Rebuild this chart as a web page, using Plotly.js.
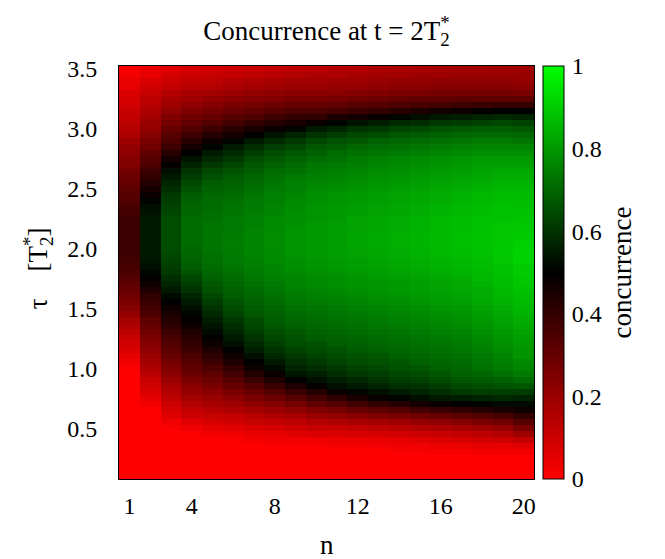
<!DOCTYPE html>
<html>
<head>
<meta charset="utf-8">
<script src="https://cdn.plot.ly/plotly-3.0.1.min.js"></script>
<style>
  html, body { margin: 0; padding: 0; background: #fff; }
  #chart { width: 665px; height: 559px; }
</style>
</head>
<body>
<div id="chart"></div>
<script>
// pulse count n (columns)
const nValues = [1,2,3,4,5,6,7,8,9,10,11,12,13,14,15,16,17,18,19,20];

// pulse spacing tau in units of T2* (rows)
const tauValues = [
  0.10,0.15,0.20,0.25,0.30,0.35,0.40,0.45,
  0.50,0.55,0.60,0.65,0.70,0.75,0.80,0.85,0.90,0.95,
  1.00,1.05,1.10,1.15,1.20,1.25,1.30,1.35,1.40,1.45,
  1.50,1.55,1.60,1.65,1.70,1.75,1.80,1.85,1.90,1.95,
  2.00,2.05,2.10,2.15,2.20,2.25,2.30,2.35,2.40,2.45,
  2.50,2.55,2.60,2.65,2.70,2.75,2.80,2.85,2.90,2.95,
  3.00,3.05,3.10,3.15,3.20,3.25,3.30,3.35,3.40,3.45,
  3.50
];

// concurrence for each n, ordered by tau (0.10 ... 3.50)
const cN01 = [0,0,0,0,0,0,0,0,
  0,0,0,0,0,0,0,0,0,0,
  0.01,0.03,0.05,0.07,0.09,0.11,0.13,0.16,0.18,0.21,
  0.24,0.26,0.28,0.30,0.32,0.34,0.35,0.36,0.37,0.38,
  0.38,0.38,0.38,0.38,0.38,0.38,0.37,0.36,0.34,0.33,
  0.32,0.30,0.29,0.27,0.25,0.24,0.22,0.21,0.19,0.16,
  0.15,0.13,0.12,0.11,0.09,0.08,0.07,0.05,0.04,0.02,
  0.01];
const cN02 = [0,0,0,0,0,0,0,0,
  0,0,0,0,0.02,0.05,0.07,0.09,0.11,0.14,
  0.16,0.18,0.20,0.22,0.24,0.26,0.28,0.30,0.32,0.35,
  0.37,0.39,0.41,0.44,0.47,0.49,0.51,0.53,0.54,0.55,
  0.55,0.55,0.55,0.55,0.55,0.55,0.54,0.53,0.51,0.48,
  0.45,0.43,0.40,0.38,0.35,0.33,0.31,0.28,0.26,0.24,
  0.21,0.20,0.18,0.16,0.14,0.13,0.11,0.09,0.07,0.05,
  0.04];
const cN03 = [0,0,0,0,0,0,0,0,
  0.01,0.03,0.06,0.08,0.10,0.13,0.15,0.17,0.20,0.23,
  0.25,0.27,0.30,0.32,0.34,0.36,0.38,0.41,0.43,0.45,
  0.47,0.50,0.52,0.55,0.57,0.59,0.61,0.62,0.63,0.64,
  0.65,0.65,0.65,0.65,0.65,0.65,0.64,0.63,0.62,0.61,
  0.59,0.57,0.55,0.53,0.49,0.46,0.42,0.38,0.35,0.33,
  0.30,0.27,0.25,0.22,0.19,0.17,0.15,0.12,0.10,0.08,
  0.06];
const cN04 = [0,0,0,0,0,0,0,0.01,
  0.03,0.06,0.10,0.12,0.15,0.18,0.21,0.23,0.26,0.29,
  0.31,0.33,0.35,0.38,0.40,0.42,0.44,0.47,0.49,0.51,
  0.53,0.55,0.57,0.60,0.62,0.64,0.66,0.68,0.69,0.70,
  0.70,0.71,0.71,0.71,0.71,0.71,0.70,0.70,0.69,0.68,
  0.66,0.64,0.62,0.60,0.57,0.54,0.50,0.46,0.42,0.38,
  0.34,0.31,0.28,0.25,0.22,0.19,0.17,0.14,0.12,0.10,
  0.08];
const cN05 = [0,0,0,0,0,0,0,0.02,
  0.05,0.08,0.11,0.14,0.17,0.20,0.23,0.26,0.29,0.32,
  0.35,0.38,0.41,0.44,0.47,0.49,0.52,0.54,0.56,0.58,
  0.60,0.62,0.64,0.66,0.67,0.69,0.70,0.71,0.72,0.72,
  0.73,0.73,0.73,0.73,0.73,0.72,0.72,0.71,0.71,0.70,
  0.69,0.68,0.66,0.64,0.61,0.58,0.55,0.51,0.47,0.43,
  0.38,0.34,0.30,0.27,0.24,0.21,0.18,0.15,0.13,0.11,
  0.09];
const cN06 = [0,0,0,0,0,0,0.01,0.03,
  0.06,0.09,0.12,0.16,0.19,0.23,0.26,0.30,0.33,0.37,
  0.40,0.44,0.47,0.50,0.53,0.55,0.57,0.59,0.61,0.63,
  0.65,0.66,0.68,0.69,0.70,0.71,0.72,0.73,0.74,0.74,
  0.745,0.745,0.745,0.74,0.74,0.74,0.73,0.73,0.72,0.71,
  0.70,0.69,0.68,0.66,0.64,0.61,0.58,0.55,0.51,0.46,
  0.42,0.37,0.33,0.29,0.26,0.23,0.20,0.17,0.15,0.12,
  0.10];
const cN07 = [0,0,0,0,0,0,0.02,0.04,
  0.07,0.11,0.14,0.18,0.22,0.26,0.30,0.34,0.39,0.43,
  0.47,0.50,0.53,0.56,0.58,0.60,0.62,0.64,0.65,0.67,
  0.68,0.69,0.70,0.71,0.72,0.73,0.74,0.75,0.75,0.76,
  0.76,0.76,0.76,0.76,0.75,0.75,0.75,0.74,0.74,0.73,
  0.72,0.71,0.70,0.68,0.67,0.65,0.62,0.59,0.55,0.50,
  0.45,0.40,0.35,0.31,0.27,0.24,0.21,0.18,0.16,0.13,
  0.11];
const cN08 = [0,0,0,0,0,0.01,0.03,0.05,
  0.08,0.12,0.16,0.20,0.24,0.29,0.34,0.39,0.44,0.48,
  0.52,0.55,0.58,0.60,0.62,0.64,0.65,0.67,0.68,0.69,
  0.70,0.71,0.72,0.73,0.74,0.75,0.76,0.76,0.77,0.77,
  0.775,0.775,0.775,0.77,0.77,0.77,0.76,0.76,0.75,0.75,
  0.74,0.73,0.72,0.71,0.69,0.67,0.65,0.62,0.58,0.54,
  0.48,0.43,0.38,0.33,0.29,0.25,0.22,0.19,0.17,0.14,
  0.12];
const cN09 = [0,0,0,0,0,0.01,0.03,0.06,
  0.09,0.13,0.17,0.22,0.27,0.33,0.39,0.44,0.50,0.54,
  0.57,0.59,0.61,0.63,0.65,0.66,0.67,0.69,0.70,0.71,
  0.72,0.73,0.74,0.75,0.76,0.76,0.77,0.78,0.78,0.79,
  0.79,0.79,0.79,0.79,0.78,0.78,0.78,0.77,0.77,0.76,
  0.75,0.75,0.74,0.72,0.71,0.69,0.67,0.64,0.61,0.57,
  0.51,0.45,0.40,0.35,0.30,0.26,0.23,0.20,0.18,0.15,
  0.13];
const cN10 = [0,0,0,0,0,0.01,0.03,0.07,
  0.11,0.15,0.20,0.25,0.31,0.37,0.43,0.49,0.53,0.56,
  0.59,0.61,0.63,0.65,0.66,0.68,0.69,0.70,0.71,0.72,
  0.73,0.74,0.75,0.76,0.77,0.77,0.78,0.79,0.79,0.80,
  0.80,0.80,0.80,0.80,0.80,0.79,0.79,0.79,0.78,0.78,
  0.77,0.76,0.75,0.74,0.73,0.71,0.69,0.67,0.64,0.60,
  0.55,0.48,0.41,0.35,0.30,0.26,0.23,0.20,0.18,0.16,
  0.14];
const cN11 = [0,0,0,0,0,0.02,0.04,0.07,
  0.11,0.16,0.21,0.27,0.34,0.41,0.48,0.53,0.56,0.59,
  0.61,0.63,0.65,0.66,0.68,0.69,0.70,0.71,0.72,0.73,
  0.74,0.75,0.76,0.77,0.78,0.78,0.79,0.80,0.80,0.81,
  0.81,0.81,0.81,0.81,0.81,0.80,0.80,0.80,0.79,0.79,
  0.78,0.77,0.76,0.75,0.74,0.72,0.71,0.68,0.66,0.62,
  0.57,0.51,0.44,0.37,0.31,0.27,0.23,0.21,0.19,0.16,
  0.145];
const cN12 = [0,0,0,0,0,0.02,0.04,0.08,
  0.12,0.17,0.23,0.30,0.37,0.45,0.51,0.55,0.58,0.61,
  0.63,0.65,0.66,0.68,0.69,0.70,0.71,0.72,0.73,0.74,
  0.75,0.76,0.77,0.78,0.79,0.79,0.80,0.81,0.81,0.82,
  0.82,0.825,0.825,0.82,0.82,0.82,0.81,0.81,0.80,0.80,
  0.79,0.78,0.77,0.76,0.75,0.74,0.72,0.70,0.67,0.64,
  0.60,0.54,0.46,0.39,0.33,0.28,0.24,0.21,0.19,0.17,
  0.15];
const cN13 = [0,0,0,0,0,0.02,0.05,0.08,
  0.13,0.18,0.25,0.32,0.40,0.48,0.53,0.57,0.60,0.62,
  0.64,0.66,0.67,0.69,0.70,0.71,0.72,0.73,0.74,0.75,
  0.76,0.77,0.78,0.79,0.79,0.80,0.81,0.82,0.82,0.83,
  0.83,0.835,0.835,0.83,0.83,0.83,0.82,0.82,0.81,0.81,
  0.80,0.79,0.78,0.77,0.76,0.75,0.73,0.71,0.69,0.65,
  0.61,0.56,0.48,0.40,0.34,0.29,0.25,0.22,0.20,0.18,
  0.16];
const cN14 = [0,0,0,0,0.01,0.03,0.05,0.09,
  0.14,0.19,0.26,0.34,0.43,0.51,0.55,0.59,0.62,0.64,
  0.66,0.67,0.69,0.70,0.71,0.72,0.73,0.74,0.75,0.76,
  0.77,0.78,0.79,0.80,0.80,0.81,0.82,0.83,0.83,0.84,
  0.84,0.845,0.845,0.84,0.84,0.84,0.83,0.83,0.82,0.82,
  0.81,0.80,0.79,0.78,0.77,0.76,0.74,0.72,0.70,0.67,
  0.63,0.58,0.51,0.42,0.35,0.30,0.26,0.23,0.21,0.18,
  0.165];
const cN15 = [0,0,0,0,0.01,0.03,0.06,0.10,
  0.15,0.21,0.28,0.37,0.46,0.53,0.57,0.60,0.63,0.65,
  0.67,0.69,0.70,0.71,0.72,0.73,0.74,0.75,0.76,0.77,
  0.78,0.79,0.80,0.81,0.81,0.82,0.83,0.84,0.84,0.85,
  0.85,0.855,0.855,0.85,0.85,0.85,0.84,0.84,0.83,0.83,
  0.82,0.81,0.80,0.79,0.78,0.77,0.75,0.73,0.71,0.68,
  0.64,0.59,0.53,0.44,0.36,0.31,0.26,0.23,0.21,0.19,
  0.17];
const cN16 = [0,0,0,0,0.01,0.04,0.07,0.11,
  0.16,0.22,0.30,0.39,0.48,0.55,0.59,0.62,0.65,0.67,
  0.69,0.70,0.71,0.72,0.73,0.74,0.75,0.76,0.77,0.78,
  0.79,0.80,0.81,0.82,0.82,0.83,0.84,0.85,0.85,0.86,
  0.86,0.865,0.865,0.86,0.86,0.86,0.85,0.85,0.84,0.84,
  0.83,0.82,0.81,0.80,0.79,0.78,0.76,0.74,0.72,0.69,
  0.66,0.61,0.55,0.46,0.37,0.31,0.27,0.24,0.22,0.19,
  0.175];
const cN17 = [0,0,0,0,0.01,0.04,0.08,0.12,
  0.17,0.24,0.32,0.41,0.50,0.56,0.61,0.64,0.67,0.69,
  0.70,0.71,0.72,0.73,0.74,0.75,0.76,0.77,0.78,0.79,
  0.80,0.81,0.82,0.83,0.83,0.84,0.85,0.86,0.86,0.87,
  0.87,0.875,0.875,0.87,0.87,0.87,0.86,0.86,0.85,0.85,
  0.84,0.83,0.82,0.81,0.80,0.79,0.77,0.75,0.73,0.70,
  0.67,0.62,0.56,0.47,0.38,0.32,0.27,0.24,0.22,0.20,
  0.18];
const cN18 = [0,0,0,0,0.02,0.05,0.09,0.13,
  0.19,0.26,0.34,0.43,0.51,0.57,0.62,0.65,0.68,0.70,
  0.72,0.73,0.74,0.75,0.76,0.77,0.78,0.79,0.80,0.81,
  0.82,0.83,0.84,0.84,0.85,0.86,0.86,0.87,0.87,0.88,
  0.88,0.885,0.885,0.88,0.88,0.88,0.87,0.87,0.86,0.86,
  0.85,0.84,0.83,0.82,0.81,0.80,0.78,0.76,0.74,0.71,
  0.68,0.63,0.57,0.49,0.39,0.32,0.27,0.24,0.22,0.20,
  0.185];
const cN19 = [0,0,0,0,0.02,0.05,0.10,0.15,
  0.21,0.28,0.36,0.45,0.52,0.58,0.62,0.66,0.69,0.72,
  0.74,0.75,0.76,0.77,0.78,0.79,0.80,0.81,0.82,0.83,
  0.84,0.85,0.86,0.86,0.87,0.87,0.88,0.88,0.89,0.89,
  0.895,0.895,0.89,0.89,0.89,0.88,0.88,0.88,0.87,0.87,
  0.86,0.85,0.84,0.83,0.81,0.80,0.78,0.76,0.74,0.71,
  0.68,0.64,0.58,0.50,0.40,0.32,0.27,0.24,0.22,0.20,
  0.19];
const cN20 = [0,0,0,0,0.02,0.06,0.12,0.19,
  0.26,0.33,0.40,0.47,0.52,0.57,0.62,0.67,0.71,0.74,
  0.76,0.77,0.79,0.79,0.80,0.81,0.82,0.83,0.84,0.85,
  0.86,0.865,0.87,0.88,0.89,0.895,0.90,0.90,0.91,0.91,
  0.91,0.905,0.90,0.895,0.89,0.885,0.88,0.875,0.87,0.865,
  0.86,0.85,0.84,0.83,0.81,0.80,0.78,0.76,0.73,0.70,
  0.67,0.63,0.57,0.50,0.40,0.32,0.26,0.23,0.21,0.20,
  0.19];

// axis tick labels
const xTicks = [1, 4, 8, 12, 16, 20];
const yTicks = [0.5, 1.0, 1.5, 2.0, 2.5, 3.0, 3.5];
const cbTicks = [0, 0.2, 0.4, 0.6, 0.8, 1];
const cbMinorTicks = [0.1, 0.2, 0.3, 0.4, 0.5, 0.6, 0.7, 0.8, 0.9];

const columns = [cN01,cN02,cN03,cN04,cN05,cN06,cN07,cN08,cN09,cN10,
                 cN11,cN12,cN13,cN14,cN15,cN16,cN17,cN18,cN19,cN20];

// heatmap rows follow tau, columns follow n
const z = tauValues.map((_, i) => columns.map(col => col[i]));

const FONT = 'Liberation Serif, Times New Roman, serif';

// colour box edges in paper units (right of the plot area)
const cbLeft = 1.0217, cbRight = 1.0723, cbTick = 0.012;
const cbShapes = [];
cbMinorTicks.forEach(v => {
  cbShapes.push({type: 'line', xref: 'paper', yref: 'paper',
    x0: cbLeft, x1: cbLeft + cbTick, y0: v, y1: v,
    line: {color: '#000', width: 1}});
  cbShapes.push({type: 'line', xref: 'paper', yref: 'paper',
    x0: cbRight - cbTick, x1: cbRight, y0: v, y1: v,
    line: {color: '#000', width: 1}});
});

const trace = {
  type: 'heatmap',
  x: nValues,
  y: tauValues,
  z: z,
  zmin: 0,
  zmax: 1,
  zsmooth: false,
  colorscale: [[0, '#ff0000'], [0.5, '#000000'], [1, '#00ff00']],
  colorbar: {
    x: cbLeft, xanchor: 'left', xpad: 0,
    y: 0.5, yanchor: 'middle', ypad: 0,
    len: 1, lenmode: 'fraction',
    thickness: 21, thicknessmode: 'pixels',
    outlinecolor: '#000', outlinewidth: 1,
    tickmode: 'array', tickvals: cbTicks, ticktext: ['0', '0.2', '0.4', '0.6', '0.8', '1'],
    ticks: 'outside', ticklen: 3, tickcolor: 'rgba(0,0,0,0)',
    tickfont: {family: FONT, size: 24, color: '#000'}
  },
  hoverinfo: 'x+y+z'
};

const layout = {
  width: 665,
  height: 559,
  margin: {l: 119, r: 131, t: 66, b: 80, pad: 0},
  paper_bgcolor: '#fff',
  plot_bgcolor: '#fff',
  font: {family: FONT, size: 24, color: '#000'},
  title: {
    text: 'Concurrence at t = 2T<sub><span style="letter-spacing:-0.5em">2</span></sub><sup>*</sup>',
    font: {family: FONT, size: 27, color: '#000'},
    x: 0.5, xref: 'paper', xanchor: 'center',
    y: 1 - 31 / 559, yref: 'container', yanchor: 'middle'
  },
  xaxis: {
    range: [0.5, 20.5],
    tickmode: 'array', tickvals: xTicks,
    ticks: '', ticklabelstandoff: 5,
    showline: true, mirror: true, linecolor: '#000', linewidth: 1,
    showgrid: false, zeroline: false,
    tickfont: {family: FONT, size: 24, color: '#000'}
  },
  yaxis: {
    range: [0.075, 3.525],
    tickmode: 'array', tickvals: yTicks, tickformat: '.1f',
    ticks: '', ticklabelstandoff: 16,
    showline: true, mirror: true, linecolor: '#000', linewidth: 1,
    showgrid: false, zeroline: false,
    tickfont: {family: FONT, size: 24, color: '#000'}
  },
  shapes: cbShapes,
  annotations: [
    {text: 'n', xref: 'paper', yref: 'paper', x: 0.5, y: -0.16,
     xanchor: 'center', yanchor: 'middle', showarrow: false,
     font: {family: FONT, size: 27, color: '#000'}},
    {text: 'τ    [T<sub><span style="letter-spacing:-0.5em">2</span></sub><sup>*</sup>]',
     xref: 'paper', yref: 'paper', x: -0.2, y: 0.51, textangle: -90,
     xanchor: 'center', yanchor: 'middle', showarrow: false,
     font: {family: FONT, size: 27, color: '#000'}},
    {text: 'concurrence', xref: 'paper', yref: 'paper', x: 1.212, y: 0.5,
     textangle: -90, xanchor: 'center', yanchor: 'middle', showarrow: false,
     font: {family: FONT, size: 27, color: '#000'}}
  ]
};

Plotly.newPlot('chart', [trace], layout, {displayModeBar: false, staticPlot: true});
</script>
</body>
</html>
